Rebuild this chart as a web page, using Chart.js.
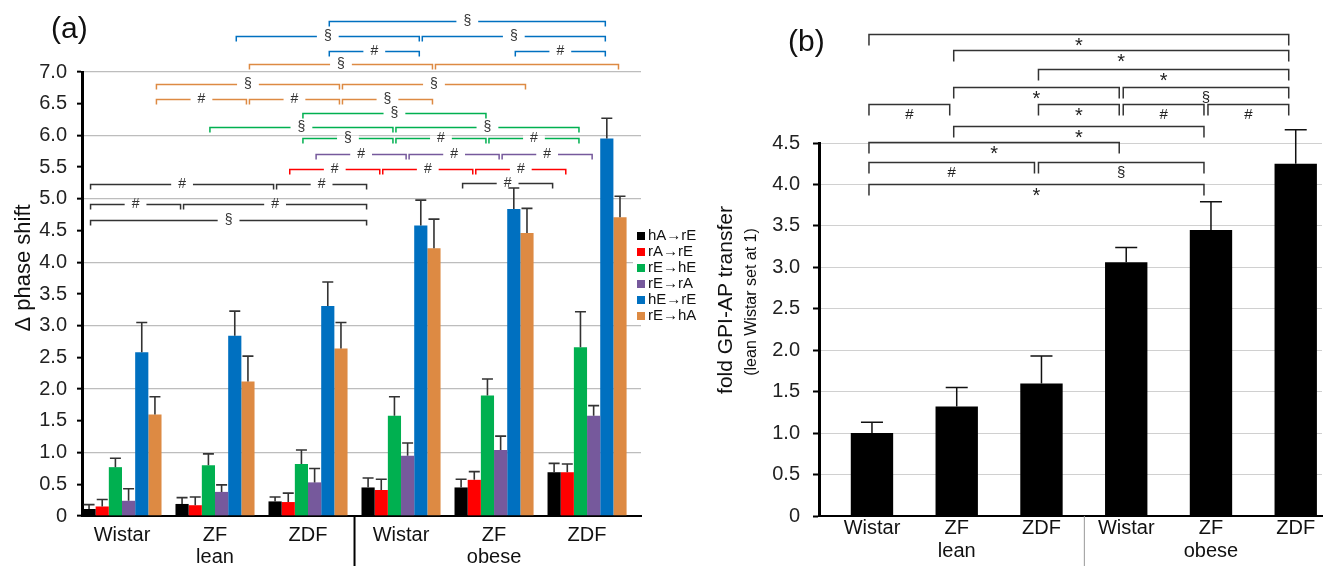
<!DOCTYPE html>
<html>
<head>
<meta charset="utf-8">
<script src="https://cdn.jsdelivr.net/npm/chart.js@4.4.1/dist/chart.umd.min.js"></script>
<style>
  body { margin: 0; background: #fff; width: 1332px; height: 566px; overflow: hidden; position: relative;
         font-family: "Liberation Sans", Arial, sans-serif; }
  canvas { position: absolute; top: 0; }
  #chartA { left: 0; }
  #chartB { left: 700px; }
  .panel { position: absolute; font-size: 30px; color: #111; line-height: 34px; }
</style>
</head>
<body>
<canvas id="chartA" width="700" height="566"></canvas>
<canvas id="chartB" width="632" height="566"></canvas>
<div class="panel" style="left:51px; top:11px">(a)</div>
<div class="panel" style="left:788px; top:24px">(b)</div>
<script>
const FONT = '"Liberation Sans", Arial, sans-serif';
Chart.defaults.font.family = FONT;

const groups = ['Wistar', 'ZF', 'ZDF', 'Wistar', 'ZF', 'ZDF'];
const subGroups = ['', 'lean', '', '', 'obese', ''];

// (a) phase shift per transfer direction
const seriesA = ['hA→rE', 'rA→rE', 'rE→hE', 'rE→rA', 'hE→rE', 'rE→hA'];
const colorsA = ['#000000', '#ff0000', '#00b050', '#76599c', '#0070c0', '#dd8a43'];
const hA_rE = [0.11, 0.19, 0.23, 0.45, 0.45, 0.69];
const rA_rE = [0.15, 0.17, 0.22, 0.41, 0.57, 0.69];
const rE_hE = [0.77, 0.80, 0.82, 1.58, 1.90, 2.66];
const rE_rA = [0.24, 0.38, 0.53, 0.95, 1.04, 1.58];
const hE_rE = [2.58, 2.84, 3.31, 4.58, 4.84, 5.95];
const rE_hA = [1.60, 2.12, 2.64, 4.22, 4.46, 4.71];
const hA_rE_err = [0.07, 0.10, 0.07, 0.15, 0.13, 0.14];
const rA_rE_err = [0.11, 0.13, 0.14, 0.17, 0.13, 0.13];
const rE_hE_err = [0.14, 0.18, 0.22, 0.30, 0.26, 0.56];
const rE_rA_err = [0.19, 0.11, 0.22, 0.20, 0.22, 0.16];
const hE_rE_err = [0.47, 0.39, 0.38, 0.40, 0.33, 0.32];
const rE_hA_err = [0.28, 0.40, 0.41, 0.46, 0.39, 0.33];
const yTicksA = [0, 0.5, 1, 1.5, 2, 2.5, 3, 3.5, 4, 4.5, 5, 5.5, 6, 6.5, 7];

// significance brackets (a): series, from group, to group, level, mark
const sigA = [
  [0, 0, 2, 5.24, '#'], [0, 2, 3, 5.24, '#'], [0, 0, 1, 4.92, '#'], [0, 1, 3, 4.92, '#'],
  [0, 0, 3, 4.66, '§'], [0, 4, 5, 5.25, '#'],
  [1, 2, 3, 5.47, '#'], [1, 3, 4, 5.47, '#'], [1, 4, 5, 5.47, '#'],
  [3, 2, 3, 5.70, '#'], [3, 3, 4, 5.70, '#'], [3, 4, 5, 5.70, '#'],
  [2, 2, 3, 5.96, '§'], [2, 3, 4, 5.96, '#'], [2, 4, 5, 5.96, '#'],
  [2, 1, 3, 6.14, '§'], [2, 3, 5, 6.14, '§'], [2, 2, 4, 6.36, '§'],
  [5, 0, 1, 6.57, '#'], [5, 1, 2, 6.57, '#'], [5, 2, 3, 6.57, '§'],
  [5, 0, 2, 6.81, '§'], [5, 2, 4, 6.81, '§'], [5, 1, 3, 7.12, '§'], [5, 3, 5, 7.12, ''],
  [4, 2, 3, 7.33, '#'], [4, 4, 5, 7.33, '#'], [4, 1, 3, 7.57, '§'], [4, 3, 5, 7.57, '§'],
  [4, 2, 5, 7.80, '§']
];

// (b) fold GPI-AP transfer
const foldB = [1.00, 1.32, 1.60, 3.06, 3.45, 4.25];
const foldB_err = [0.13, 0.23, 0.33, 0.18, 0.34, 0.41];
const yTicksB = [0, 0.5, 1, 1.5, 2, 2.5, 3, 3.5, 4, 4.5];
const sigB = [
  [0, 5, 5.82, '*'], [1, 5, 5.62, '*'], [2, 5, 5.39, '*'], [1, 3, 5.17, '*'], [3, 5, 5.17, '§'],
  [0, 1, 4.97, '#'], [2, 3, 4.97, '*'], [3, 4, 4.97, '#'], [4, 5, 4.97, '#'],
  [1, 4, 4.71, '*'], [0, 3, 4.51, '*'], [0, 2, 4.27, '#'], [2, 4, 4.27, '§'], [0, 4, 4.01, '*']
];

const valuesA = [hA_rE, rA_rE, rE_hE, rE_rA, hE_rE, rE_hA];
const errsA = [hA_rE_err, rA_rE_err, rE_hE_err, rE_rA_err, hE_rE_err, rE_hA_err];

function drawErrors(chart, errs, capW, color, lw) {
  const ctx = chart.ctx, y = chart.scales.y;
  ctx.save();
  ctx.strokeStyle = color;
  ctx.lineWidth = lw;
  chart.data.datasets.forEach((ds, i) => {
    chart.getDatasetMeta(i).data.forEach((bar, j) => {
      const top = y.getPixelForValue(ds.data[j].y + errs[i][j]);
      ctx.beginPath();
      ctx.moveTo(bar.x, bar.y);
      ctx.lineTo(bar.x, top);
      ctx.moveTo(bar.x - capW / 2, top);
      ctx.lineTo(bar.x + capW / 2, top);
      ctx.stroke();
    });
  });
  ctx.restore();
}

function bracketPath(ctx, x1, x2, y, tick) {
  ctx.beginPath();
  ctx.moveTo(x1, y + tick);
  ctx.lineTo(x1, y);
  ctx.lineTo(x2, y);
  ctx.lineTo(x2, y + tick);
  ctx.stroke();
}

function rotatedText(ctx, text, x, y, font, color) {
  ctx.save();
  ctx.translate(x, y);
  ctx.rotate(-Math.PI / 2);
  ctx.font = font;
  ctx.fillStyle = color;
  ctx.textAlign = 'center';
  ctx.textBaseline = 'middle';
  ctx.fillText(text, 0, 0);
  ctx.restore();
}

const extrasA = {
  id: 'extrasA',
  afterDatasetsDraw(chart) {
    drawErrors(chart, errsA, 11, '#333', 1.6);
  },
  afterDraw(chart) {
    const ctx = chart.ctx, x = chart.scales.x, y = chart.scales.y;
    ctx.save();
    // brackets
    ctx.lineWidth = 1.5;
    ctx.font = '14px ' + FONT;
    ctx.textAlign = 'center';
    ctx.textBaseline = 'middle';
    sigA.forEach(([s, g1, g2, lvl, mark]) => {
      const bars = chart.getDatasetMeta(s).data;
      const x1 = bars[g1].x + 1.5, x2 = bars[g2].x - 1.5;
      const py = Math.round(y.getPixelForValue(lvl)) + 0.5;
      ctx.strokeStyle = s === 0 ? '#333' : colorsA[s];
      bracketPath(ctx, x1, x2, py, 5);
      if (mark) {
        const mx = (x1 + x2) / 2, w = ctx.measureText(mark).width + 14;
        ctx.fillStyle = '#fff';
        ctx.fillRect(mx - w / 2, py - 3, w, 6);
        ctx.fillStyle = '#333';
        ctx.fillText(mark, mx, py);
      }
    });
    // group separator
    const sx = x.getPixelForValue(2.5);
    ctx.strokeStyle = '#000';
    ctx.lineWidth = 2;
    ctx.beginPath();
    ctx.moveTo(sx, y.bottom);
    ctx.lineTo(sx, 566);
    ctx.stroke();
    // legend
    ctx.fillStyle = '#fff';
    ctx.fillRect(633, 227, 67, 98);
    ctx.font = '15px ' + FONT;
    ctx.textAlign = 'left';
    chart.data.datasets.forEach((ds, i) => {
      const ly = 236 + i * 16;
      ctx.fillStyle = ds.backgroundColor;
      ctx.fillRect(637, ly - 4, 8, 8);
      ctx.fillStyle = '#111';
      ctx.fillText(ds.label, 648, ly);
    });
    ctx.restore();
    rotatedText(ctx, 'Δ phase shift', 24, 268, '22px ' + FONT, '#111');
  }
};

const extrasB = {
  id: 'extrasB',
  afterDatasetsDraw(chart) {
    drawErrors(chart, [foldB_err], 22, '#111', 1.5);
  },
  afterDraw(chart) {
    const ctx = chart.ctx, x = chart.scales.x, y = chart.scales.y;
    ctx.save();
    ctx.lineWidth = 1.5;
    ctx.strokeStyle = '#333';
    ctx.fillStyle = '#222';
    ctx.textAlign = 'center';
    ctx.textBaseline = 'middle';
    sigB.forEach(([g1, g2, lvl, mark]) => {
      const x1 = x.getPixelForValue(g1) - 3, x2 = x.getPixelForValue(g2) - 7;
      const py = Math.round(y.getPixelForValue(lvl)) + 0.5;
      bracketPath(ctx, x1, x2, py, 11);
      ctx.font = (mark === '*' ? '20px ' : '15px ') + FONT;
      ctx.fillText(mark, (x1 + x2) / 2, py + (mark === '*' ? 12 : 10));
    });
    const sx = x.getPixelForValue(2.5);
    ctx.strokeStyle = '#999';
    ctx.lineWidth = 1;
    ctx.beginPath();
    ctx.moveTo(sx + 0.5, y.bottom);
    ctx.lineTo(sx + 0.5, 566);
    ctx.stroke();
    ctx.restore();
    rotatedText(ctx, 'fold GPI-AP transfer', 26, 300, '21px ' + FONT, '#111');
    rotatedText(ctx, '(lean Wistar set at 1)', 52, 302, '16px ' + FONT, '#111');
  }
};

function xAxis(min, max, pad, lineH) {
  return {
    type: 'linear', min: min, max: max, offset: false,
    afterBuildTicks: s => { s.ticks = groups.map((g, i) => ({ value: i })); },
    afterFit: s => { s.height = 50; },
    ticks: {
      autoSkip: false, maxRotation: 0, padding: pad, color: '#111',
      font: { size: 20, lineHeight: lineH },
      callback: (v, i) => subGroups[i] ? [groups[i], subGroups[i]] : groups[i]
    },
    grid: { display: false, drawTicks: false, offset: false },
    border: { color: '#000', width: 2 }
  };
}

new Chart(document.getElementById('chartA'), {
  type: 'bar',
  data: {
    datasets: seriesA.map((name, i) => ({
      label: name,
      data: valuesA[i].map((v, j) => ({ x: j, y: v })),
      backgroundColor: colorsA[i],
      borderWidth: 0,
      categoryPercentage: 0.85,
      barPercentage: 1.0
    }))
  },
  options: {
    responsive: false, animation: false, events: [],
    layout: { padding: { left: 0, right: 59, top: 72, bottom: 0 } },
    plugins: { legend: { display: false }, tooltip: { enabled: false } },
    scales: {
      x: xAxis(-0.43, 5.58, 8, 1.1),
      y: {
        min: 0, max: 7,
        afterBuildTicks: s => { s.ticks = yTicksA.map(v => ({ value: v })); },
        afterFit: s => { s.width = 82; },
        ticks: {
          padding: 10, color: '#222', font: { size: 20 },
          callback: v => v === 0 ? '0' : v.toFixed(1)
        },
        grid: {
          color: c => (c.tick && c.tick.value > 0 && Number.isInteger(c.tick.value)) ? '#bdbdbd' : 'rgba(0,0,0,0)',
          lineWidth: 1.3, tickColor: '#000', tickLength: 5, tickWidth: 2
        },
        border: { color: '#000', width: 3 }
      }
    }
  },
  plugins: [extrasA]
});

new Chart(document.getElementById('chartB'), {
  type: 'bar',
  data: {
    datasets: [{
      label: 'fold GPI-AP transfer',
      data: foldB.map((v, j) => ({ x: j, y: v })),
      backgroundColor: '#000',
      borderWidth: 0,
      categoryPercentage: 0.5,
      barPercentage: 1.0
    }]
  },
  options: {
    responsive: false, animation: false, events: [],
    layout: { padding: { left: 0, right: 10, top: 143, bottom: 0 } },
    plugins: { legend: { display: false }, tooltip: { enabled: false } },
    scales: {
      x: xAxis(-0.625, 5.31, 1, 1.15),
      y: {
        min: 0, max: 4.5,
        afterBuildTicks: s => { s.ticks = yTicksB.map(v => ({ value: v })); },
        afterFit: s => { s.width = 119; },
        ticks: {
          padding: 13, color: '#222', font: { size: 20 },
          callback: v => v === 0 ? '0' : v.toFixed(1)
        },
        grid: {
          color: c => (c.tick && c.tick.value > 0) ? '#d0d0d0' : 'rgba(0,0,0,0)',
          lineWidth: 1, tickColor: '#000', tickLength: 6, tickWidth: 2
        },
        border: { color: '#000', width: 3 }
      }
    }
  },
  plugins: [extrasB]
});
</script>
</body>
</html>
